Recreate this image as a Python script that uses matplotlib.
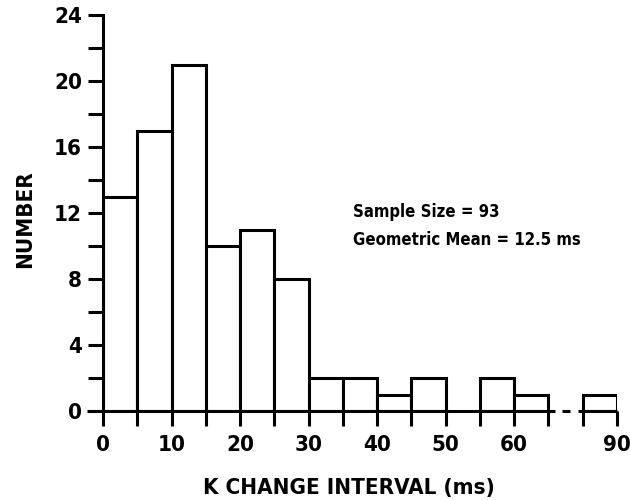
import matplotlib.pyplot as plt

# histogram of K change intervals (ms), bins of 5 ms, axis broken between 65 and 85
bin_start = [0, 5, 10, 15, 20, 25, 30, 35, 40, 45, 50, 55, 60, 85]
counts = [13, 17, 21, 10, 11, 8, 2, 2, 1, 2, 0, 2, 1, 1]
bin_width = 5

x_tick_ms = [0, 5, 10, 15, 20, 25, 30, 35, 40, 45, 50, 55, 60, 65, 85, 90]
x_tick_text = ["0", "", "10", "", "20", "", "30", "", "40", "", "50", "", "60", "", "", "90"]
y_major = [0, 4, 8, 12, 16, 20, 24]
y_minor = [2, 6, 10, 14, 18, 22]

notes = ["Sample Size = 93", "Geometric Mean = 12.5 ms"]

BREAK_LO, BREAK_HI = 65, 85
BREAK_GAP = 5  # width of the gap drawn on the axis


def to_axis(ms):
    # squeeze the 65..85 ms stretch into a short gap
    if ms <= BREAK_LO:
        return ms
    return ms - (BREAK_HI - BREAK_LO) + BREAK_GAP


plt.rcParams["font.family"] = ["DejaVu Sans"]
plt.rcParams["font.weight"] = "bold"
plt.rcParams["font.stretch"] = "condensed"

fig = plt.figure(figsize=(6.3, 5), dpi=100)
ax = fig.add_axes([103 / 630, 89 / 500, 514 / 630, 396 / 500])
ax.set_xlim(0, to_axis(90))
ax.set_ylim(0, 24)

lw = 2.2
for s, c in zip(bin_start, counts):
    if c == 0:
        continue
    ax.bar(to_axis(s), c, width=bin_width, align="edge", color="white",
           edgecolor="black", linewidth=lw, zorder=2)

for sp in ["top", "right", "bottom"]:
    ax.spines[sp].set_visible(False)
ax.spines["left"].set_linewidth(lw)

# broken x axis line
ax.plot([-2.3, to_axis(BREAK_LO) + 1.0], [0, 0], color="black", lw=lw,
        clip_on=False, zorder=3, solid_capstyle="butt")
ax.plot([to_axis(BREAK_LO) + 2.0, to_axis(BREAK_LO) + 3.1], [0, 0], color="black",
        lw=lw, clip_on=False, zorder=3, solid_capstyle="butt")
ax.plot([to_axis(BREAK_HI) - 0.7, to_axis(90)], [0, 0], color="black", lw=lw,
        clip_on=False, zorder=3, solid_capstyle="butt")

ax.set_xticks([to_axis(v) for v in x_tick_ms])
ax.set_xticklabels(x_tick_text)
ax.set_yticks(y_major)
ax.set_yticks(y_minor, minor=True)
ax.tick_params(axis="x", direction="out", length=11, width=lw, pad=6,
               labelsize=16)
ax.tick_params(axis="y", which="both", direction="out", length=11, width=lw,
               pad=4, labelsize=16)
ax.tick_params(axis="y", which="minor", left=True)

fig.text(349 / 630, 1 - 488 / 500, "K CHANGE INTERVAL (ms)", ha="center",
         va="center", fontsize=16, fontweight="bold")
fig.text(25 / 630, 1 - 219 / 500, "NUMBER", ha="center", va="center",
         rotation=90, fontsize=16, fontweight="bold")

fig.text(353 / 630, 1 - 212 / 500, notes[0], ha="left", va="center",
         fontsize=12, fontweight="bold")
fig.text(353 / 630, 1 - 240 / 500, notes[1], ha="left", va="center",
         fontsize=12, fontweight="bold")

fig.savefig("out.png", dpi=100)
